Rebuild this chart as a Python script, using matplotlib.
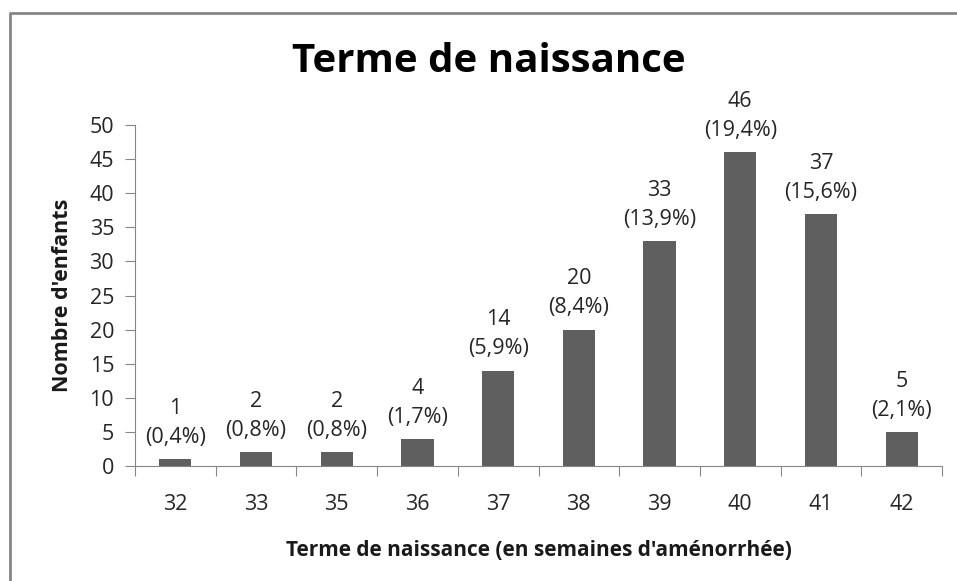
import matplotlib.pyplot as plt
import numpy as np
from matplotlib.lines import Line2D

# Données
semaines = ['32', '33', '35', '36', '37', '38', '39', '40', '41', '42']
nb_enfants = [1, 2, 2, 4, 14, 20, 33, 46, 37, 5]
pourcentages = ['0,4%', '0,8%', '0,8%', '1,7%', '5,9%', '8,4%', '13,9%', '19,4%', '15,6%', '2,1%']

plt.rcParams['font.family'] = ['Open Sans', 'DejaVu Sans']

fig = plt.figure(figsize=(9.57, 5.81), dpi=100)
ax = fig.add_axes([135 / 957, 1 - 466 / 581, (942 - 135) / 957, (466 - 125) / 581])

x = np.arange(len(semaines))
ax.bar(x, nb_enfants, width=0.4, color='#5f5f5f')

for xi, v, p in zip(x, nb_enfants, pourcentages):
    ax.annotate(f"{v}\n({p})", (xi, v), xytext=(0, 8), textcoords='offset points',
                ha='center', va='bottom', fontsize=15.5, color='#262626', linespacing=1.5)

ax.set_xlim(-0.5, len(semaines) - 0.5)
ax.set_ylim(0, 50)
ax.set_yticks(range(0, 51, 5))
ax.tick_params(axis='y', labelsize=15.5, labelcolor='#262626', color='#868686', length=7, pad=8)

# Ticks x entre les catégories
ax.set_xticks(np.arange(-0.5, len(semaines)), minor=False)
ax.set_xticklabels([])
ax.set_xticks(x, minor=True)
ax.set_xticklabels(semaines, minor=True)
ax.tick_params(axis='x', which='major', color='#868686', length=7)
ax.tick_params(axis='x', which='minor', length=0, labelsize=15.5, labelcolor='#262626', pad=20)

for s in ['top', 'right']:
    ax.spines[s].set_visible(False)
for s in ['left', 'bottom']:
    ax.spines[s].set_color('#868686')

ax.set_xlabel("Terme de naissance (en semaines d'aménorrhée)", fontsize=15,
              fontweight='bold', color='#1a1a1a', labelpad=18)
ax.set_ylabel("Nombre d'enfants", fontsize=15.5, fontweight='bold', color='#1a1a1a', labelpad=12)

fig.text(489 / 957, 1 - 62 / 581, "Terme de naissance", ha='center', va='center',
         fontsize=29, fontweight='bold', color='black')

# Cadre du graphique (bords gauche et haut)
fig.add_artist(Line2D([9.5 / 957, 9.5 / 957, 1], [0, 1 - 12.5 / 581, 1 - 12.5 / 581],
                      transform=fig.transFigure, color='#868686', linewidth=2))

fig.savefig('out.png', dpi=100)
